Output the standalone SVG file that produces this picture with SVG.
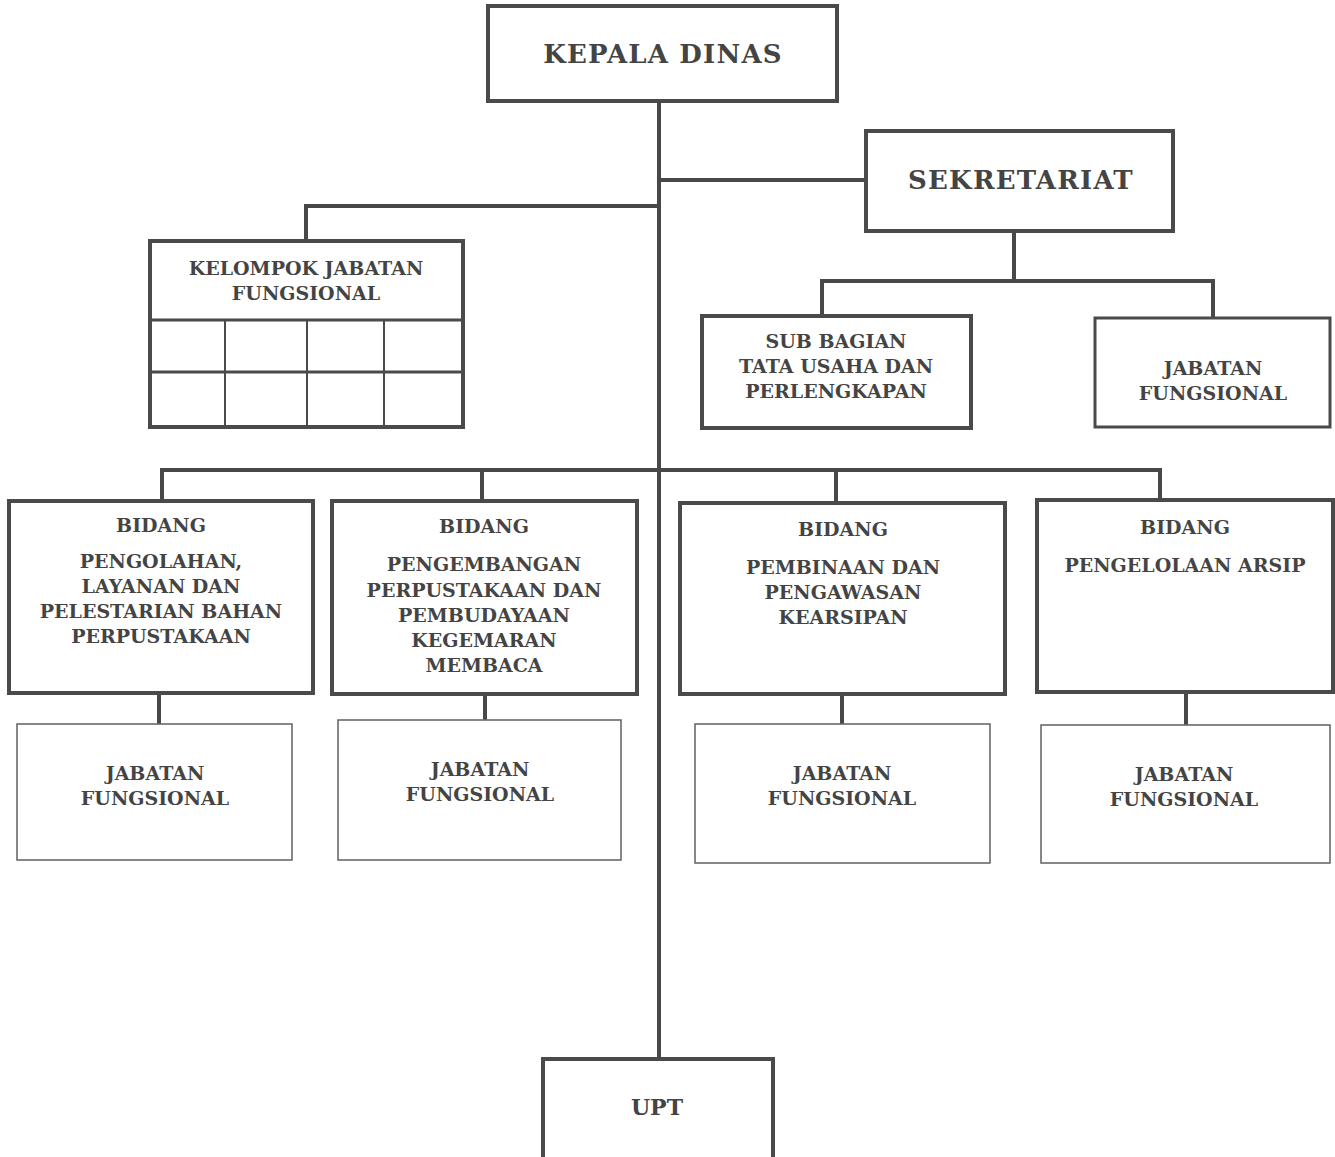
<svg xmlns="http://www.w3.org/2000/svg" width="1335" height="1157" viewBox="0 0 1335 1157">
<style>
.b{fill:#fff;stroke:#4a4a4a;stroke-width:4}
.t{fill:#fff;stroke:#6a6a6a;stroke-width:1.6}
.g{fill:none;stroke:#4a4a4a;stroke-width:3}
.c{fill:none;stroke:#484848;stroke-width:4}
text{font-family:"DejaVu Serif","Liberation Serif",serif;font-weight:bold;fill:#444;text-anchor:middle}
.L{font-size:26px;letter-spacing:1.2px}
.s{font-size:19px}
.u{font-size:22px}
</style>
<rect width="1335" height="1157" fill="#fff"/>
<g id="connectors">
<path class="c" d="M659,101 V1060"/>
<path class="c" d="M659,180 H866"/>
<path class="c" d="M659,206 H306 V241"/>
<path class="c" d="M1014,231 V281 M822,316 V281 H1213 V318"/>
<path class="c" d="M162,502 V470 H1160 V501 M482,470 V502 M836,470 V503"/>
<path class="c" d="M159,693 V724 M485,694 V720 M842,694 V724 M1186,692 V725"/>
</g>
<g id="kepala"><rect class="b" x="488" y="6" width="349" height="95"/><text class="L" x="663" y="63">KEPALA DINAS</text></g>
<g id="sekretariat"><rect class="b" x="866" y="131" width="307" height="100"/><text class="L" x="1021" y="189">SEKRETARIAT</text></g>
<g id="kelompok"><rect class="b" x="150" y="241" width="313" height="186"/>
<path class="g" d="M150,320 H463 M150,372 H463"/>
<path class="g" d="M225,320 V427 M307,320 V427 M384,320 V427" style="stroke-width:2"/>
<text class="s" x="306" y="275">KELOMPOK JABATAN</text><text class="s" x="306" y="300">FUNGSIONAL</text></g>
<g id="subbagian"><rect class="b" x="702" y="316" width="269" height="112"/>
<text class="s" x="836" y="348">SUB BAGIAN</text><text class="s" x="836" y="373">TATA USAHA DAN</text><text class="s" x="836" y="398">PERLENGKAPAN</text></g>
<g id="jf-sekretariat"><rect class="b" x="1095" y="318" width="235" height="109" style="stroke-width:3"/>
<text class="s" x="1213" y="375">JABATAN</text><text class="s" x="1213" y="400">FUNGSIONAL</text></g>
<g id="bidang1"><rect class="b" x="9" y="501" width="304" height="192"/>
<text class="s" x="161" y="532">BIDANG</text><text class="s" x="161" y="568">PENGOLAHAN,</text><text class="s" x="161" y="593">LAYANAN DAN</text><text class="s" x="161" y="618">PELESTARIAN BAHAN</text><text class="s" x="161" y="643">PERPUSTAKAAN</text></g>
<g id="bidang2"><rect class="b" x="332" y="501" width="305" height="193"/>
<text class="s" x="484" y="533">BIDANG</text><text class="s" x="484" y="571">PENGEMBANGAN</text><text class="s" x="484" y="597">PERPUSTAKAAN DAN</text><text class="s" x="484" y="622">PEMBUDAYAAN</text><text class="s" x="484" y="647">KEGEMARAN</text><text class="s" x="484" y="672">MEMBACA</text></g>
<g id="bidang3"><rect class="b" x="680" y="503" width="325" height="191"/>
<text class="s" x="843" y="536">BIDANG</text><text class="s" x="843" y="574">PEMBINAAN DAN</text><text class="s" x="843" y="599">PENGAWASAN</text><text class="s" x="843" y="624">KEARSIPAN</text></g>
<g id="bidang4"><rect class="b" x="1037" y="500" width="296" height="192"/>
<text class="s" x="1185" y="534">BIDANG</text><text class="s" x="1185" y="572">PENGELOLAAN ARSIP</text></g>
<g id="jf1"><rect class="t" x="17" y="724" width="275" height="136"/><text class="s" x="155" y="780">JABATAN</text><text class="s" x="155" y="805">FUNGSIONAL</text></g>
<g id="jf2"><rect class="t" x="338" y="720" width="283" height="140"/><text class="s" x="480" y="776">JABATAN</text><text class="s" x="480" y="801">FUNGSIONAL</text></g>
<g id="jf3"><rect class="t" x="695" y="724" width="295" height="139"/><text class="s" x="842" y="780">JABATAN</text><text class="s" x="842" y="805">FUNGSIONAL</text></g>
<g id="jf4"><rect class="t" x="1041" y="725" width="289" height="138"/><text class="s" x="1184" y="781">JABATAN</text><text class="s" x="1184" y="806">FUNGSIONAL</text></g>
<g id="upt"><rect class="b" x="543" y="1059" width="230" height="102"/><text class="u" x="657" y="1115">UPT</text></g>
</svg>
